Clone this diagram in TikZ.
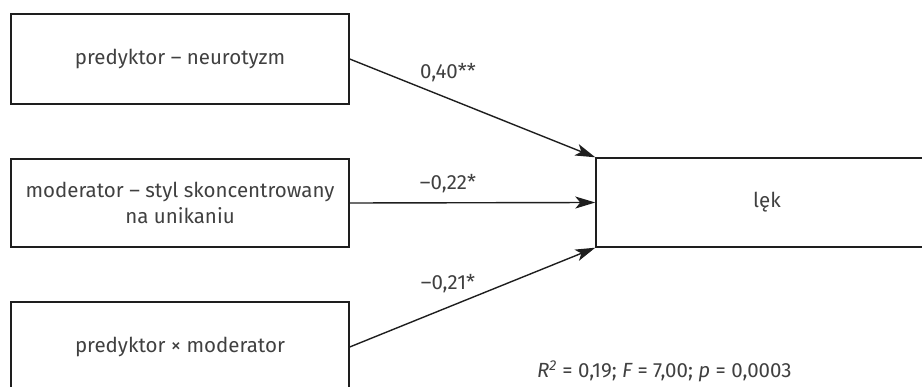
\documentclass[tikz,border=0pt]{standalone}
\usepackage{fontspec}
\setmainfont{Fira Sans}
\usetikzlibrary{arrows.meta}
\definecolor{txt}{HTML}{404040}
\definecolor{ln}{HTML}{1E1E1E}
\begin{document}
\begin{tikzpicture}[x=1pt,y=1pt,
  box/.style={draw=ln,line width=1.4pt,rectangle,minimum width=338pt,inner sep=0pt,align=center,text=txt,font=\fontsize{20.5}{26}\selectfont},
  conn/.style={draw=ln,line width=1.4pt,-{Stealth[length=20pt,width=12pt,inset=5pt]},shorten >=0pt},
  lbl/.style={text=txt,font=\fontsize{20.5}{24}\selectfont,inner sep=0pt}]
\useasboundingbox (0,0) rectangle (922,-387);
\node[box,minimum height=90pt] (b1) at (180,-59) {predyktor – neurotyzm};
\node[box,minimum height=88pt] (b2) at (180,-203) {moderator – styl skoncentrowany\\na unikaniu};
\node[box,minimum height=90pt] (b3) at (180,-347) {predyktor × moderator};
\node[box,minimum width=342pt,minimum height=89pt] (lek) at (767,-202.5) {lęk};
\draw[conn] (b1.east) -- (lek.north west);
\draw[conn] (b2.east) -- (lek.west);
\draw[conn] (b3.east) -- (lek.south west);
\node[lbl] (l1) at (448,-73) {0,40**};
\node[lbl] (l2) at (448,-184) {–0,22*};
\node[lbl] (l3) at (448,-284) {–0,21*};
\node[lbl,anchor=base west] (st) at (537,-378) {\itshape R\textsuperscript{2}\upshape{} = 0,19; \itshape F\upshape{} = 7,00; \itshape p\upshape{} = 0,0003};
\end{tikzpicture}
\end{document}
